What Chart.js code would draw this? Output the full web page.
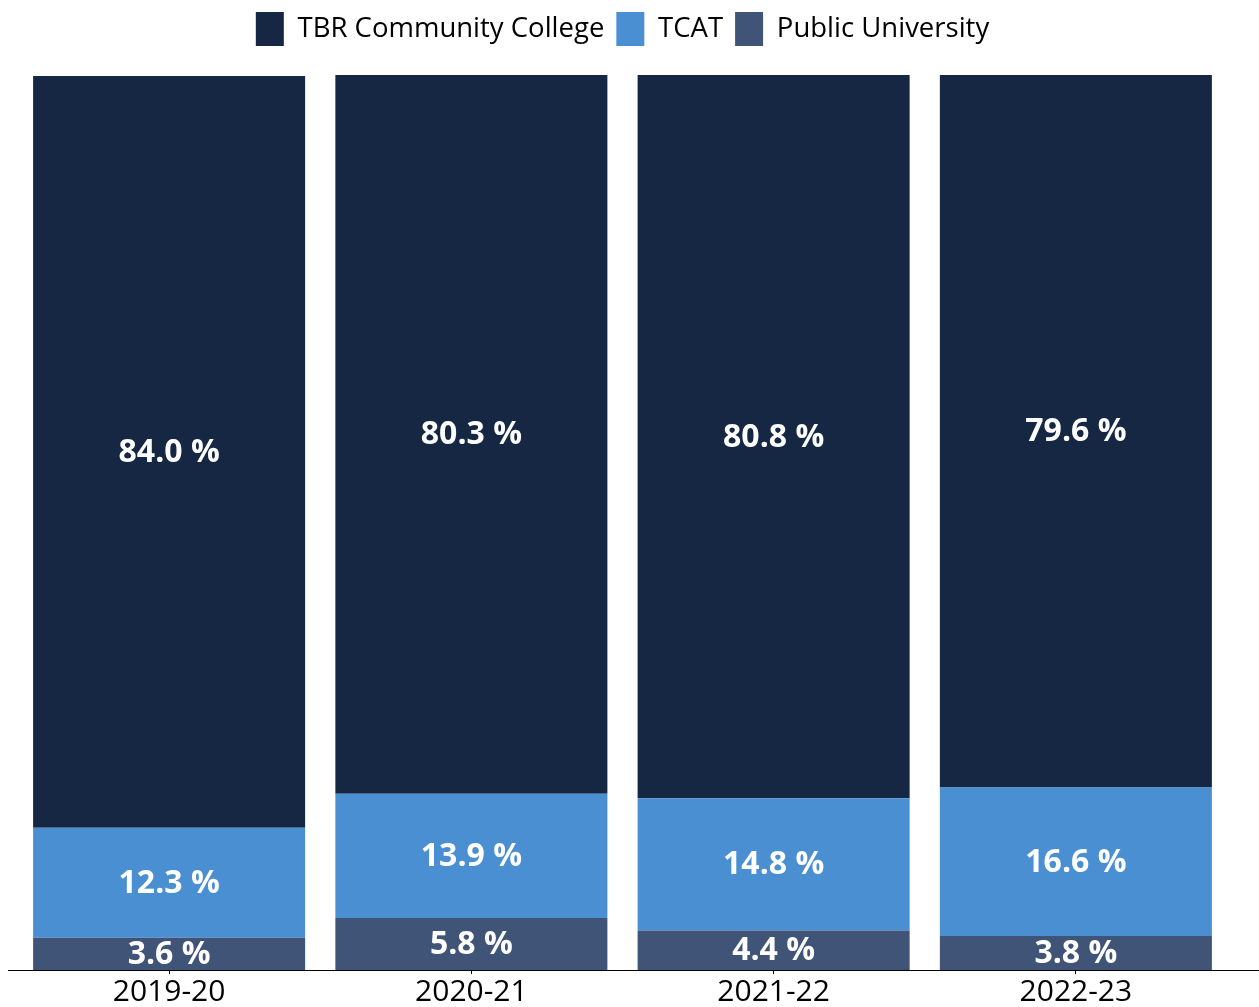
<!DOCTYPE html>
<html>
<head>
<meta charset="utf-8">
<title>Share by sector</title>
<script src="https://cdn.jsdelivr.net/npm/chart.js@4.4.1/dist/chart.umd.min.js"></script>
<style>
  html, body { margin: 0; padding: 0; background: #fff; }
  #wrap { width: 1259px; height: 1007px; position: relative; }
</style>
</head>
<body>
<div id="wrap"><canvas id="sectorChart"></canvas></div>
<script>
// academic years on the x axis
const years = ['2019-20', '2020-21', '2021-22', '2022-23'];

// percent of students per sector, one value per year
const publicUniversity = [3.6, 5.8, 4.4, 3.8];
const tcat = [12.3, 13.9, 14.8, 16.6];
const tbrCommunityCollege = [84.0, 80.3, 80.8, 79.6];

const FONT = '"Open Sans", "Noto Sans", sans-serif';

// writes the percentage in the middle of every segment
const segmentLabels = {
  id: 'segmentLabels',
  afterDatasetsDraw(chart) {
    const ctx = chart.ctx;
    ctx.save();
    ctx.fillStyle = '#ffffff';
    ctx.font = 'bold 32px ' + FONT;
    ctx.textAlign = 'center';
    ctx.textBaseline = 'middle';
    chart.data.datasets.forEach((ds, i) => {
      const meta = chart.getDatasetMeta(i);
      meta.data.forEach((bar, j) => {
        const mid = (bar.y + bar.base) / 2;
        ctx.fillText(ds.data[j].toFixed(1) + ' %', bar.x, mid + 1);
      });
    });
    ctx.restore();
  }
};

// baseline runs past the bars across the whole width
const baseLine = {
  id: 'baseLine',
  afterDraw(chart) {
    const ctx = chart.ctx;
    const y = Math.round(chart.scales.y.getPixelForValue(0)) + 0.5;
    ctx.save();
    ctx.strokeStyle = '#000';
    ctx.lineWidth = 1.2;
    ctx.beginPath();
    ctx.moveTo(8, y);
    ctx.lineTo(chart.width, y);
    ctx.stroke();
    ctx.restore();
  }
};

// a bit more room between the legend and the bars
const legendGap = {
  id: 'legendGap',
  beforeInit(chart) {
    const origFit = chart.legend.fit;
    chart.legend.fit = function () {
      origFit.bind(chart.legend)();
      this.height += 19;
    };
  }
};

const ctx = document.getElementById('sectorChart').getContext('2d');
const sectorChart = new Chart(ctx, {
  type: 'bar',
  data: {
    labels: years,
    datasets: [
      { label: 'Public University', data: publicUniversity, backgroundColor: '#3f5476' },
      { label: 'TCAT', data: tcat, backgroundColor: '#4b8fd3' },
      { label: 'TBR Community College', data: tbrCommunityCollege, backgroundColor: '#152743' }
    ]
  },
  options: {
    responsive: true,
    maintainAspectRatio: false,
    animation: false,
    layout: { padding: { left: 18, right: 32, top: 0, bottom: -3 } },
    datasets: {
      bar: { barPercentage: 0.9, categoryPercentage: 1.0 }
    },
    scales: {
      x: {
        stacked: true,
        grid: {
          display: true,
          offset: false,
          drawOnChartArea: false,
          drawTicks: true,
          tickLength: 4,
          color: '#000'
        },
        border: { display: false },
        ticks: {
          color: '#000',
          padding: 6,
          font: { family: FONT, size: 30, lineHeight: 0.8 }
        }
      },
      y: {
        stacked: true,
        display: false,
        min: 0,
        max: 100
      }
    },
    plugins: {
      legend: {
        position: 'top',
        reverse: true,
        labels: {
          color: '#000',
          boxWidth: 28,
          boxHeight: 34,
          padding: 12,
          font: { family: FONT, size: 27.5 }
        }
      },
      tooltip: { enabled: false }
    }
  },
  plugins: [segmentLabels, baseLine, legendGap]
});
</script>
</body>
</html>
